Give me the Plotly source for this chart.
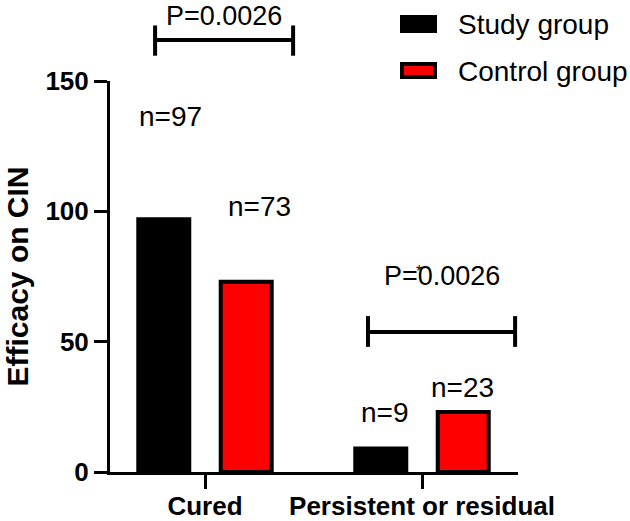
import plotly.graph_objects as go

categories = ["Cured", "Persistent or residual"]
study_values = [97, 9]
control_values = [73, 23]
study_labels = ["n=97", "n=9"]
control_labels = ["n=73", "n=23"]
p_labels = ["P=0.0026", "P=0.0026"]
series_names = ["Study group", "Control group"]
y_ticks = [0, 50, 100, 150]

FONT = "Liberation Sans, Arial, sans-serif"
XMIN, XMAX = -0.4378, 1.4424
YMIN, YMAX = 0, 150

W, H = 630, 521
PL, PR, PT, PB = 110, 518, 81, 472  # plot area in page px
PW, PH = PR - PL, PB - PT


def xp(d):
    return (d - XMIN) / (XMAX - XMIN)


def yp(d):
    return (d - YMIN) / (YMAX - YMIN)


def px_x(page_x):
    return (page_x - PL) / PW


def px_y(page_y):
    return (PB - page_y) / PH


fig = go.Figure()
fig.add_trace(go.Bar(
    x=categories, y=study_values, name=series_names[0],
    width=0.235, offset=-0.19 - 0.1175,
    marker=dict(color="black", line=dict(color="black", width=4)),
    showlegend=False,
))
fig.add_trace(go.Bar(
    x=categories, y=control_values, name=series_names[1],
    width=0.235, offset=0.19 - 0.1175,
    marker=dict(color="#ff0000", line=dict(color="black", width=4)),
    showlegend=False,
))

ann = []
shapes = []
n_pos = [(-0.161, 136.2, study_labels[0]), (0.251, 101.7, control_labels[0]),
         (0.829, 23.0, study_labels[1]), (1.187, 32.6, control_labels[1])]
for x, y, t in n_pos:
    ann.append(dict(x=xp(x), y=yp(y), xref="paper", yref="paper", text=t, showarrow=False,
                    font=dict(family=FONT, size=28, color="black"),
                    xanchor="center", yanchor="middle"))

ann.append(dict(x=xp(0.086), y=yp(175.0), xref="paper", yref="paper", text=p_labels[0],
                showarrow=False, font=dict(family=FONT, size=27, color="black"),
                xanchor="center", yanchor="middle"))
ann.append(dict(x=xp(1.092), y=yp(75.3), xref="paper", yref="paper", text=p_labels[1],
                showarrow=False, font=dict(family=FONT, size=27, color="black"),
                xanchor="center", yanchor="middle"))
ann.append(dict(x=xp(0.986), y=yp(77.0), xref="paper", yref="paper", text="*",
                showarrow=False, font=dict(family=FONT, size=16, color="black"),
                xanchor="center", yanchor="middle"))

LW = 4


def bracket(x0, x1, yh, ylo, yhi):
    ln = dict(color="black", width=LW)
    ref = dict(xref="paper", yref="paper")
    X0, X1, YH, YL, YT = xp(x0), xp(x1), yp(yh), yp(ylo), yp(yhi)
    return [
        dict(type="line", x0=X0, x1=X1, y0=YH, y1=YH, line=ln, **ref),
        dict(type="line", x0=X0, x1=X0, y0=YL, y1=YT, line=ln, **ref),
        dict(type="line", x0=X1, x1=X1, y0=YL, y1=YT, line=ln, **ref),
    ]


shapes += bracket(-0.230, 0.406, 165.7, 159.7, 171.3)
shapes += bracket(0.751, 1.429, 53.7, 48.0, 59.8)

# manual legend
shapes.append(dict(type="rect", xref="paper", yref="paper",
                   x0=px_x(400), x1=px_x(437), y0=px_y(33), y1=px_y(15),
                   fillcolor="black", line=dict(width=0)))
shapes.append(dict(type="rect", xref="paper", yref="paper",
                   x0=px_x(402), x1=px_x(435), y0=px_y(77), y1=px_y(64),
                   fillcolor="#ff0000", line=dict(color="black", width=4)))
ann.append(dict(x=px_x(456), y=px_y(24), xref="paper", yref="paper",
                text=series_names[0], showarrow=False, xanchor="left", yanchor="middle",
                font=dict(family=FONT, size=28, color="black")))
ann.append(dict(x=px_x(456), y=px_y(71), xref="paper", yref="paper",
                text=series_names[1], showarrow=False, xanchor="left", yanchor="middle",
                font=dict(family=FONT, size=28, color="black")))

fig.update_layout(
    width=W, height=H,
    margin=dict(l=PL, r=W - PR, t=PT, b=H - PB, pad=0),
    plot_bgcolor="white", paper_bgcolor="white",
    barmode="overlay",
    showlegend=False,
    annotations=ann, shapes=shapes,
    font=dict(family=FONT, color="black"),
)
fig.update_xaxes(
    type="category", categoryorder="array", categoryarray=categories,
    range=[XMIN, XMAX], automargin=False,
    showline=True, linecolor="black", linewidth=3,
    ticks="outside", ticklen=14, tickwidth=3, tickcolor="black",
    ticklabelstandoff=-5,
    tickfont=dict(family=FONT, size=26, color="black", weight="bold"),
    showgrid=False, zeroline=False,
)
fig.update_yaxes(
    range=[YMIN, YMAX], tickvals=y_ticks, automargin=False,
    showline=True, linecolor="black", linewidth=3,
    ticks="outside", ticklen=13, tickwidth=3, tickcolor="black",
    tickfont=dict(family=FONT, size=26, color="black", weight="bold"),
    showgrid=False, zeroline=False,
    title=dict(text="Efficacy on CIN", standoff=8,
               font=dict(family=FONT, size=30, color="black", weight="bold")),
)
fig.write_html("out.html", config={"displayModeBar": False},
               post_script="document.body.style.margin='0px';")
